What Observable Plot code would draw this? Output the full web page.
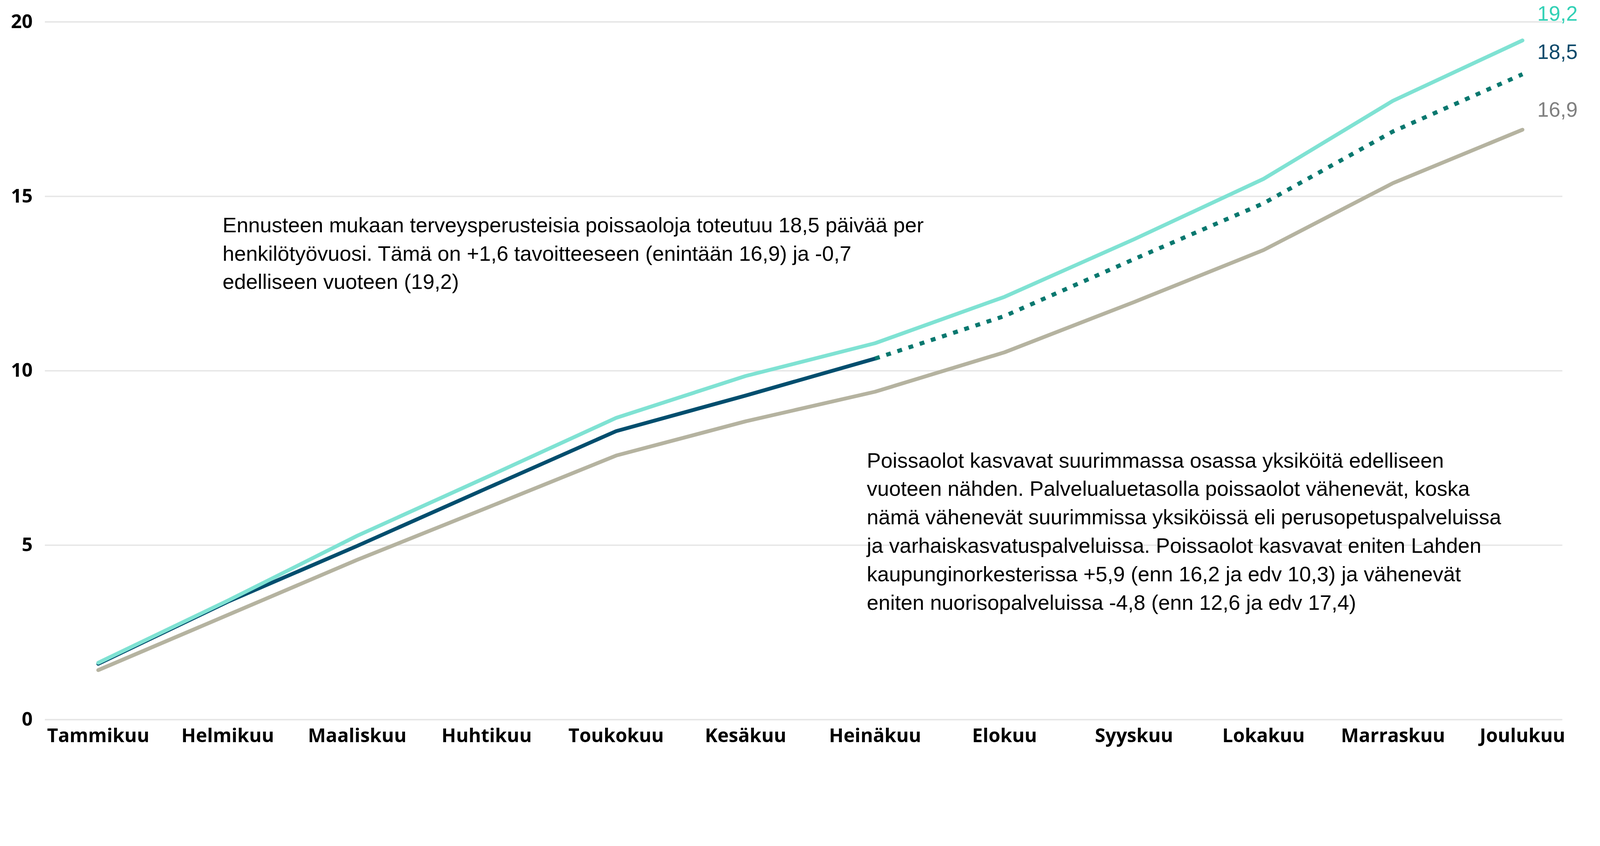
<!DOCTYPE html>
<html>
<head>
<meta charset="utf-8">
<script src="https://cdn.jsdelivr.net/npm/d3@7"></script>
<script src="https://cdn.jsdelivr.net/npm/@observablehq/plot@0.6"></script>
<style>
  html, body { margin: 0; padding: 0; background: #ffffff; overflow: hidden; }
  #chart svg { display: block; }
</style>
</head>
<body>
<div id="chart"></div>
<script>
// ---- data ----
const months = ["Tammikuu","Helmikuu","Maaliskuu","Huhtikuu","Toukokuu","Kesäkuu","Heinäkuu","Elokuu","Syyskuu","Lokakuu","Marraskuu","Joulukuu"];
const previousYear = [1.63, 3.41, 5.27, 6.95, 8.65, 9.85, 10.79, 12.12, 13.77, 15.5, 17.74, 19.47];
const actual = [1.6, 3.38, 4.98, 6.63, 8.27, 9.29, 10.35];
const forecastMonths = ["Heinäkuu","Elokuu","Syyskuu","Lokakuu","Marraskuu","Joulukuu"];
const forecast = [10.35, 11.57, 13.2, 14.8, 16.86, 18.5];
const target = [1.42, 3.0, 4.58, 6.07, 7.57, 8.55, 9.4, 10.53, 11.97, 13.46, 15.38, 16.91];
const yTicks = [0, 5, 10, 15, 20];
const endLabels = ["19,2", "18,5", "16,9"];
const note1 = ["Ennusteen mukaan terveysperusteisia poissaoloja toteutuu 18,5 päivää per",
               "henkilötyövuosi. Tämä on +1,6 tavoitteeseen (enintään 16,9) ja -0,7",
               "edelliseen vuoteen (19,2)"];
const note2 = ["Poissaolot kasvavat suurimmassa osassa yksiköitä edelliseen",
               "vuoteen nähden. Palvelualuetasolla poissaolot vähenevät, koska",
               "nämä vähenevät suurimmissa yksiköissä eli perusopetuspalveluissa",
               "ja varhaiskasvatuspalveluissa. Poissaolot kasvavat eniten Lahden",
               "kaupunginorkesterissa +5,9 (enn 16,2 ja edv 10,3) ja vähenevät",
               "eniten nuorisopalveluissa -4,8 (enn 12,6 ja edv 17,4)"];

// ---- tables ----
const prevData = months.map((m, i) => ({month: m, value: previousYear[i]}));
const actualData = actual.map((v, i) => ({month: months[i], value: v}));
const forecastData = forecast.map((v, i) => ({month: forecastMonths[i], value: v}));
const targetData = months.map((m, i) => ({month: m, value: target[i]}));
const last = months[months.length - 1];

const bodyFont = "'Liberation Sans', Arial, sans-serif";
const axisFont = "'Open Sans', 'Noto Sans', sans-serif";

const chart = Plot.plot({
  width: 4634,
  height: 2167,
  marginTop: 63,
  marginBottom: 82,
  marginLeft: 130,
  marginRight: 109,
  style: {fontFamily: bodyFont, background: "#ffffff", color: "#000"},
  x: {type: "point", domain: months, range: [282, 4410], padding: 0},
  y: {domain: [0, 20]},
  marks: [
    Plot.ruleY(yTicks, {stroke: "#e6e6e6", strokeWidth: 4}),
    Plot.axisY(yTicks, {tickSize: 0, tickPadding: 36, fontSize: 55, fontWeight: 700,
                        fontFamily: axisFont, fill: "#000", label: null, tickFormat: d => String(d)}),
    Plot.axisX({tickSize: 0, tickPadding: 26, fontSize: 55, fontWeight: 700,
                fontFamily: axisFont, fill: "#000", label: null}),
    Plot.line(targetData, {x: "month", y: "value", stroke: "#b5b3a0", strokeWidth: 11,
                           strokeLinecap: "round", strokeLinejoin: "round"}),
    Plot.line(actualData, {x: "month", y: "value", stroke: "#004e6e", strokeWidth: 11,
                           strokeLinecap: "round", strokeLinejoin: "round"}),
    Plot.line(forecastData, {x: "month", y: "value", stroke: "#08786f", strokeWidth: 12,
                             strokeDasharray: "14,20", strokeLinecap: "butt"}),
    Plot.line(prevData, {x: "month", y: "value", stroke: "#7fe2d3", strokeWidth: 11,
                         strokeLinecap: "round", strokeLinejoin: "round"}),
    Plot.text([endLabels[0]], {x: () => last, y: () => previousYear[previousYear.length - 1], text: d => d,
      dx: 43, dy: -76, textAnchor: "start", fontSize: 60, fill: "#33d1b6"}),
    Plot.text([endLabels[1]], {x: () => last, y: () => forecast[forecast.length - 1], text: d => d,
      dx: 43, dy: -63, textAnchor: "start", fontSize: 60, fill: "#0d4a6b"}),
    Plot.text([endLabels[2]], {x: () => last, y: () => target[target.length - 1], text: d => d,
      dx: 43, dy: -57, textAnchor: "start", fontSize: 60, fill: "#808080"}),
    Plot.text([note1.join("\n")], {frameAnchor: "top-left", text: d => d, dx: 514, dy: 551,
      textAnchor: "start", lineAnchor: "top", lineHeight: 1.35, fontSize: 61, fill: "#000"}),
    Plot.text([note2.join("\n")], {frameAnchor: "top-left", text: d => d, dx: 2380, dy: 1233,
      textAnchor: "start", lineAnchor: "top", lineHeight: 1.35, fontSize: 61, fill: "#000"})
  ]
});
document.getElementById("chart").appendChild(chart);
</script>
</body>
</html>
